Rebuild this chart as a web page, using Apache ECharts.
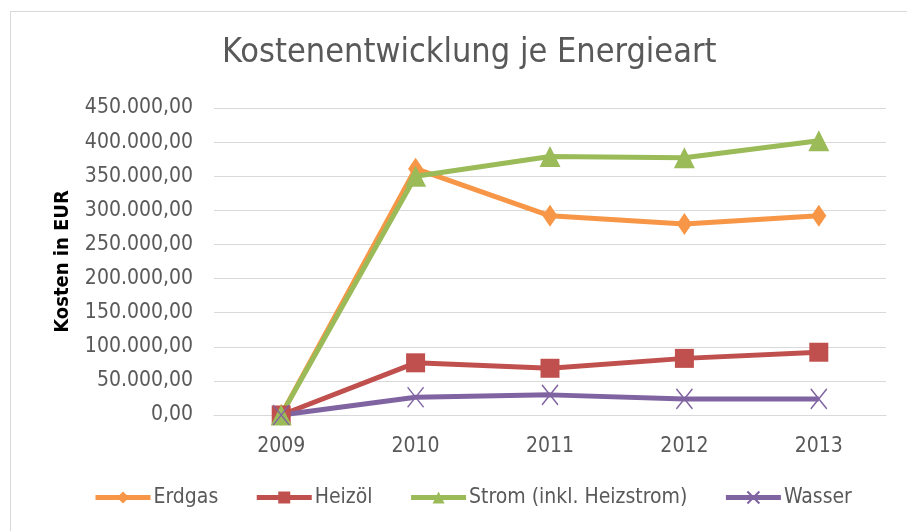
<!DOCTYPE html>
<html>
<head>
    <meta charset="utf-8">
    <title>Kostenentwicklung je Energieart</title>
    <script src="https://cdn.jsdelivr.net/npm/echarts@6/dist/echarts.min.js"></script>
    <style>
        html, body { margin: 0; padding: 0; background: #fff; }
        #chart { width: 907px; height: 531px; }
        #frame { position: absolute; left: 10px; top: 11px; width: 960px; height: 600px; border: 1px solid #d9d9d9; }
    </style>
</head>
<body>
    <div id="frame"></div>
    <div id="chart" style="position:absolute;left:0;top:0;"></div>
    <script type="text/javascript">
        var years = ['2009', '2010', '2011', '2012', '2013'];
        var erdgas = [0, 361000, 292000, 280000, 292000];
        var heizoel = [0, 76500, 68500, 83000, 92000];
        var strom = [0, 350000, 379000, 377000, 402000];
        var wasser = [0, 26000, 29500, 23500, 23500];

        var fontFam = "'DejaVu Sans Condensed', 'DejaVu Sans', sans-serif";

        // deutsches Zahlenformat: 450.000,00
        function fmt(v) {
            var s = Math.round(v).toString().replace(/\B(?=(\d{3})+(?!\d))/g, '.');
            return s + ',00';
        }

        var chart = echarts.init(document.getElementById('chart'));

        function serie(name, data, color, symbol, size, extra) {
            var s = {
                name: name,
                type: 'line',
                data: data,
                symbol: symbol,
                symbolSize: size,
                showAllSymbol: true,
                lineStyle: { color: color, width: 5 },
                itemStyle: { color: color },
                emphasis: { disabled: true }
            };
            if (extra) {
                s.itemStyle = extra;
            }
            return s;
        }

        chart.setOption({
            animation: false,
            textStyle: { fontFamily: fontFam },
            title: {
                text: 'Kostenentwicklung je Energieart',
                left: 217,
                top: 31,
                textStyle: { fontSize: 34, fontWeight: 'normal', color: '#595959', fontFamily: fontFam }
            },
            legend: {
                bottom: 18,
                left: 88,
                itemWidth: 55,
                itemHeight: 15,
                itemGap: 36,
                lineStyle: { width: 5 },
                textStyle: { fontSize: 21, color: '#595959', fontFamily: fontFam, padding: [0, 0, 0, -2] },
                data: ['Erdgas', 'Heizöl', 'Strom (inkl. Heizstrom)', 'Wasser']
            },
            grid: { left: 214, right: 21, top: 108, bottom: 116 },
            xAxis: {
                type: 'category',
                data: years,
                axisLine: { lineStyle: { color: '#d9d9d9', width: 1 } },
                axisTick: { show: false },
                axisLabel: { fontSize: 21, color: '#595959', margin: 21, fontFamily: fontFam }
            },
            yAxis: {
                type: 'value',
                min: 0,
                max: 450000,
                interval: 50000,
                name: 'Kosten in EUR',
                nameLocation: 'middle',
                nameGap: 141,
                nameTextStyle: { fontSize: 20, fontWeight: 'bold', color: '#000', fontFamily: fontFam },
                axisLine: { show: false },
                axisTick: { show: false },
                splitLine: { lineStyle: { color: '#d9d9d9', width: 1 } },
                axisLabel: { fontSize: 21, color: '#595959', margin: 21, formatter: fmt, fontFamily: fontFam }
            },
            series: [
                serie('Erdgas', erdgas, '#F79646', 'diamond', [15, 22]),
                serie('Heizöl', heizoel, '#C0504D', 'rect', 19),
                serie('Strom (inkl. Heizstrom)', strom, '#9BBB59', 'triangle', 21),
                serie('Wasser', wasser, '#8064A2', 'path://M0,0L10,10M10,0L0,10', [16, 20],
                    { color: '#8064A2', borderColor: '#8064A2', borderWidth: 1.5 })
            ]
        });
    </script>
</body>
</html>
